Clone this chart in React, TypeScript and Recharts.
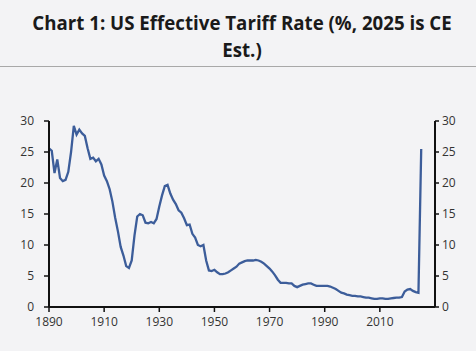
import { Line, LineChart, XAxis, YAxis } from "recharts";

const firstYear = 1890;

// US effective tariff rate, %, one value per year from 1890 (2025 is the estimate)
const tariffRate = [
  25.6, 25.2, 21.6, 23.8, 20.8, 20.3, 20.5, 21.8, 25.0, 29.2,
  27.8, 28.6, 28.0, 27.6, 25.6, 23.9, 24.1, 23.5, 23.9, 23.0,
  21.2, 20.3, 19.0, 17.0, 14.4, 12.2, 9.7, 8.3, 6.6, 6.3,
  7.5, 11.5, 14.6, 15.0, 14.8, 13.6, 13.5, 13.7, 13.5, 14.2,
  16.2, 18.0, 19.5, 19.7, 18.3, 17.3, 16.6, 15.6, 15.2, 14.3,
  13.2, 13.3, 11.8, 11.2, 10.0, 9.8, 10.0, 7.5, 5.9, 5.8,
  6.0, 5.6, 5.3, 5.3, 5.4, 5.6, 5.9, 6.2, 6.5, 7.0,
  7.2, 7.4, 7.5, 7.5, 7.5, 7.6, 7.5, 7.3, 7.0, 6.6,
  6.2, 5.7, 5.1, 4.4, 3.9, 3.9, 3.9, 3.8, 3.8, 3.4,
  3.2, 3.4, 3.6, 3.7, 3.8, 3.8, 3.6, 3.4, 3.4, 3.4,
  3.4, 3.4, 3.3, 3.1, 2.9, 2.6, 2.3, 2.2, 2.0, 1.9,
  1.8, 1.8, 1.7, 1.7, 1.6, 1.5, 1.5, 1.4, 1.3, 1.3,
  1.4, 1.4, 1.3, 1.3, 1.4, 1.45, 1.5, 1.5, 1.6, 2.5,
  2.8, 2.9, 2.6, 2.4, 2.3, 25.5,
];

const yearTicks = [1890, 1910, 1930, 1950, 1970, 1990, 2010];
const rateTicks = [0, 5, 10, 15, 20, 25, 30];

const data = tariffRate.map((rate, i) => ({ year: firstYear + i, rate }));

const font = "'Open Sans', 'Noto Sans', sans-serif";
const axisColor = "#111";
const tickStyle = { fontSize: 12, fill: "#333", fontFamily: font };

export default function App() {
  return (
    <div
      style={{
        position: "absolute",
        left: 0,
        top: 0,
        width: 476,
        height: 351,
        background: "#f3f3f5",
        overflow: "hidden",
      }}
    >
      <div
        style={{
          position: "absolute",
          left: 4,
          top: 9,
          width: 476,
          textAlign: "center",
          fontFamily: font,
          fontWeight: 700,
          fontSize: 18.7,
          lineHeight: "27px",
          color: "#1a1a1a",
        }}
      >
        Chart 1: US Effective Tariff Rate (%, 2025 is CE
        <br />
        Est.)
      </div>
      <div
        style={{ position: "absolute", left: 0, top: 66, width: 476, height: 1, background: "#a8a8a8" }}
      />
      <div style={{ position: "absolute", left: 0, top: 0 }}>
        <LineChart width={476} height={351} data={data} margin={{ top: 121, right: 0, bottom: 14, left: 0 }}>
          <XAxis
            dataKey="year"
            type="number"
            domain={[1890, 2030]}
            ticks={yearTicks}
            height={30}
            tickSize={5}
            tickMargin={5}
            tick={tickStyle}
            axisLine={{ stroke: axisColor, strokeWidth: 2 }}
            tickLine={{ stroke: axisColor, strokeWidth: 1.5 }}
          />
          <YAxis
            yAxisId="left"
            type="number"
            domain={[0, 30]}
            ticks={rateTicks}
            width={49}
            tickSize={5}
            tickMargin={10}
            tick={tickStyle}
            axisLine={{ stroke: axisColor, strokeWidth: 2 }}
            tickLine={{ stroke: axisColor, strokeWidth: 1.5 }}
          />
          <YAxis
            yAxisId="right"
            orientation="right"
            type="number"
            domain={[0, 30]}
            ticks={rateTicks}
            includeHidden
            width={41}
            tickSize={4}
            tickMargin={3}
            tick={tickStyle}
            axisLine={{ stroke: axisColor, strokeWidth: 2 }}
            tickLine={{ stroke: axisColor, strokeWidth: 1.5 }}
          />
          <Line
            yAxisId="right"
            dataKey="rate"
            hide
            dot={false}
            isAnimationActive={false}
          />
          <Line
            yAxisId="left"
            type="linear"
            dataKey="rate"
            stroke="#3c5d9a"
            strokeWidth={2.3}
            dot={false}
            isAnimationActive={false}
          />
        </LineChart>
      </div>
    </div>
  );
}
